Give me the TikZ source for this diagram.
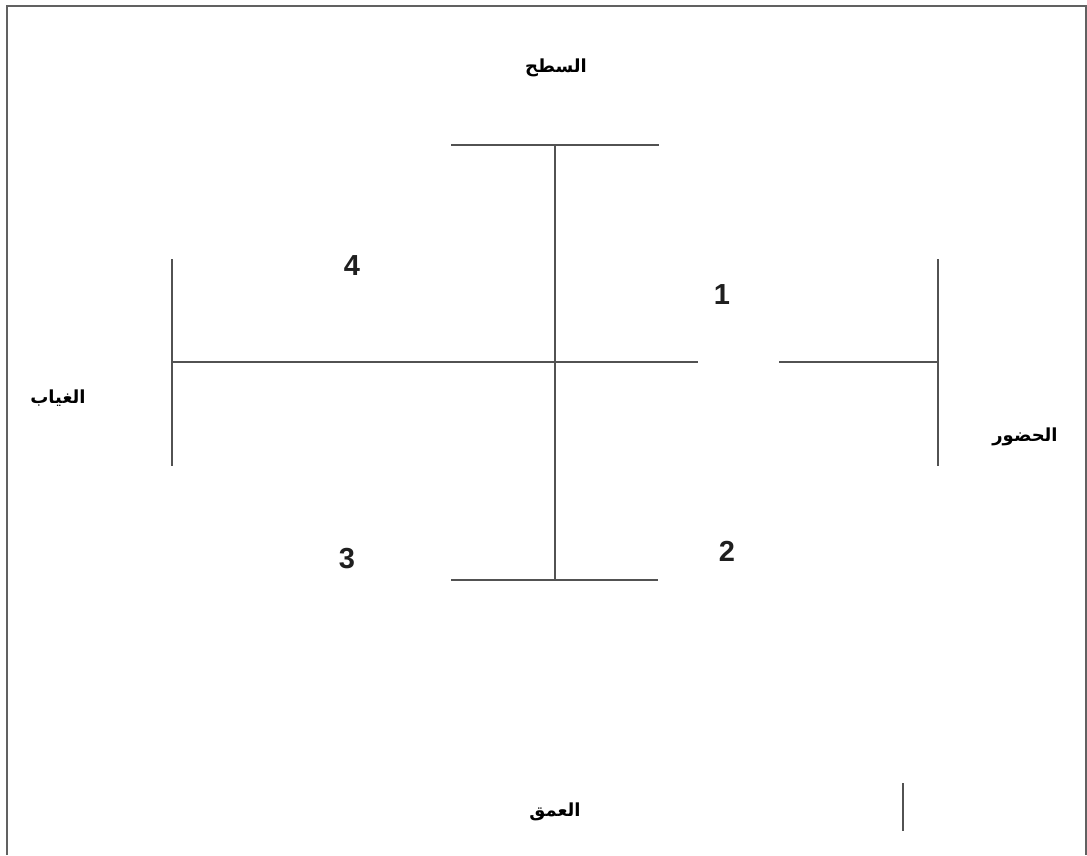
\documentclass[tikz,border=0pt]{standalone}
\usepackage{fontspec}
\setmainfont{Liberation Sans}
\newfontfamily\arabicfont[Script=Arabic]{DejaVu Sans}
\TeXXeTstate=1
\begin{document}
\begin{tikzpicture}[x=1pt,y=-1pt,
  ln/.style={draw=black!68,line width=1.7pt},
  frame/.style={draw=black!62,line width=2pt},
  ar/.style={font=\fontsize{18}{21}\selectfont\arabicfont\bfseries,inner sep=0pt},
  num/.style={font=\fontsize{29}{32}\selectfont\bfseries,inner sep=0pt,text=black!88}]
\useasboundingbox (0,0) rectangle (1087,855);
% frame (no bottom edge)
\draw[frame] (7,855) -- (7,5.5) -- (1086,5.5) -- (1086,855);
% coordinates
\coordinate (tl) at (451,145);
\coordinate (tr) at (659,145);
\coordinate (tc) at (555,145);
\coordinate (bl) at (451,580);
\coordinate (br) at (658,580);
\coordinate (bc) at (555,580);
\coordinate (lc) at (172,362);
\coordinate (lt) at (172,259);
\coordinate (lb) at (172,466);
\coordinate (rc) at (938,362);
\coordinate (rt) at (938,259);
\coordinate (rb) at (938,466);
\coordinate (ga) at (698,362);
\coordinate (gb) at (779,362);
\coordinate (st) at (903,783);
\coordinate (sb) at (903,831);
% lines
\draw[ln] (tl) -- (tr);
\draw[ln] (bl) -- (br);
\draw[ln] (tc) -- (bc);
\draw[ln] (lc) -- (ga);
\draw[ln] (gb) -- (rc);
\draw[ln] (lt) -- (lb);
\draw[ln] (rt) -- (rb);
\draw[ln] (st) -- (sb);
% labels
\node[ar] (surf) at (556,68) {\beginR السطح\endR};
\node[ar] (abs) at (58,398) {\beginR الغياب\endR};
\node[ar] (pres) at (1025,437) {\beginR الحضور\endR};
\node[ar] (depth) at (555,812) {\beginR العمق\endR};
\node[num] (n4) at (352,266) {4};
\node[num] (n1) at (722,295) {1};
\node[num] (n3) at (347,559) {3};
\node[num] (n2) at (727,551) {2};
\end{tikzpicture}
\end{document}
